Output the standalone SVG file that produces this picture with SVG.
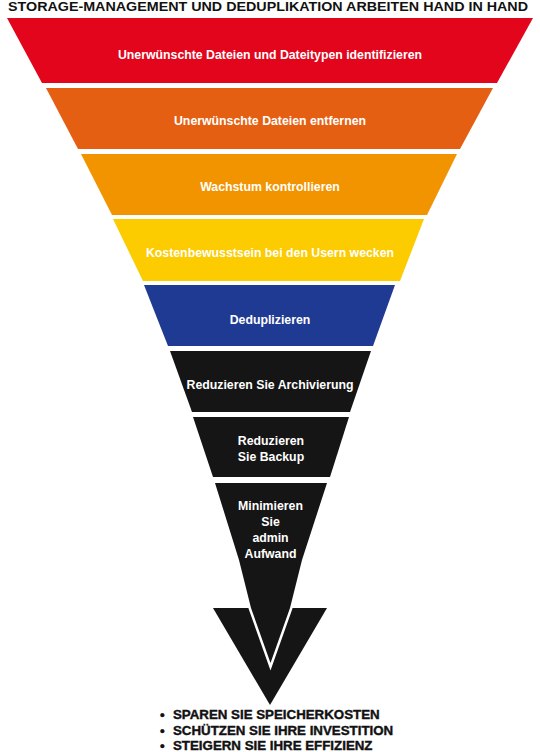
<svg xmlns="http://www.w3.org/2000/svg" width="540" height="752" viewBox="0 0 540 752">
<style>
.band text{font-family:"Liberation Sans",Arial,sans-serif;font-weight:bold;font-size:12.3px;fill:#fff;text-anchor:middle}
.title{font-family:"Liberation Sans",Arial,sans-serif;font-weight:bold;font-size:13.5px;fill:#111}
.res{font-family:"Liberation Sans",Arial,sans-serif;font-weight:bold;font-size:13.3px;fill:#111;stroke:#111;stroke-width:0.4}
.blk{fill:#151515}
</style>
<rect width="540" height="752" fill="#fff"/>
<text class="title" x="268" y="10.5" text-anchor="middle" textLength="520" lengthAdjust="spacingAndGlyphs">STORAGE-MANAGEMENT UND DEDUPLIKATION ARBEITEN HAND IN HAND</text>
<g id="funnel">
<g id="n1" class="band"><polygon points="7,18 533,18 497,83 42,83" fill="#e2051c"/><text x="270" y="59">Unerwünschte Dateien und Dateitypen identifizieren</text></g>
<g id="n2" class="band"><polygon points="46,88 493,88 460,149 78,149" fill="#e55f12"/><text x="270" y="125">Unerwünschte Dateien entfernen</text></g>
<g id="n3" class="band"><polygon points="81,154 457,154 427,215 112,215" fill="#f29400"/><text x="270" y="191">Wachstum kontrollieren</text></g>
<g id="n4" class="band"><polygon points="113,219 424,219 400,281 143,281" fill="#fccb00"/><text x="270" y="256.5">Kostenbewusstsein bei den Usern wecken</text></g>
<g id="n5" class="band"><polygon points="144,285 395,285 373,346 168,346" fill="#1f3a92"/><text x="270" y="324">Deduplizieren</text></g>
<g id="n6" class="band"><polygon class="blk" points="170,351 371,351 350,412 192,412"/><text x="270" y="389">Reduzieren Sie Archivierung</text></g>
<g id="n7" class="band"><polygon class="blk" points="193,417 349,417 330,477 213,477"/><text x="271" y="445">Reduzieren</text><text x="271" y="461">Sie Backup</text></g>
</g>
<g id="connectors">
<polygon class="blk" points="213,608 327,608 270,705"/>
</g>
<g id="n8" class="band">
<polygon class="blk" points="215,483 327,483 302,560 290,608 270.5,663 251,608 239,560" stroke="#fff" stroke-width="5" paint-order="stroke" stroke-linejoin="miter"/>
<text x="270.5" y="510">Minimieren</text><text x="270.5" y="526">Sie</text><text x="270.5" y="542">admin</text><text x="270.5" y="557.5">Aufwand</text>
</g>
<g id="result">
<text class="res" y="719"><tspan x="160">•</tspan><tspan x="173">SPAREN SIE SPEICHERKOSTEN</tspan></text>
<text class="res" y="734.5"><tspan x="160">•</tspan><tspan x="173">SCHÜTZEN SIE IHRE INVESTITION</tspan></text>
<text class="res" y="749.5"><tspan x="160">•</tspan><tspan x="173">STEIGERN SIE IHRE EFFIZIENZ</tspan></text>
</g>
</svg>
